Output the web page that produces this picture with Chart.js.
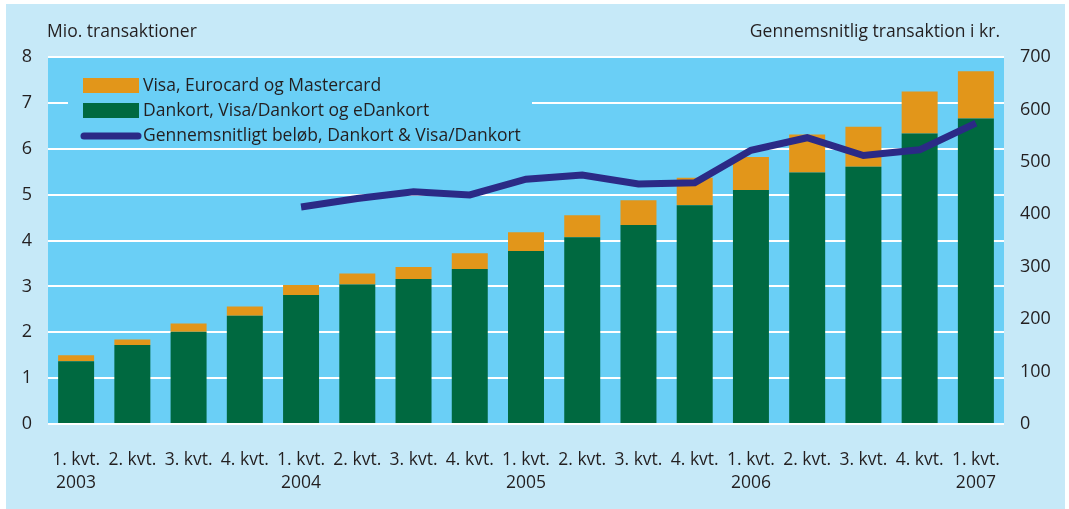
<!DOCTYPE html>
<html>
<head>
<meta charset="utf-8">
<script src="https://cdn.jsdelivr.net/npm/chart.js@4.4.1/dist/chart.umd.min.js"></script>
<style>
  html, body { margin: 0; padding: 0; background: #ffffff; }
  #wrap { width: 1069px; height: 509px; }
</style>
</head>
<body>
<div id="wrap"><canvas id="kortChart" width="1069" height="509"></canvas></div>
<script>
// Kvartaler
var quarters = [
    ['1. kvt.', '2003'], '2. kvt.', '3. kvt.', '4. kvt.',
    ['1. kvt.', '2004'], '2. kvt.', '3. kvt.', '4. kvt.',
    ['1. kvt.', '2005'], '2. kvt.', '3. kvt.', '4. kvt.',
    ['1. kvt.', '2006'], '2. kvt.', '3. kvt.', '4. kvt.',
    ['1. kvt.', '2007']
];

// Mio. transaktioner
var dankort = [1.37, 1.72, 2.01, 2.36, 2.81, 3.04, 3.16, 3.38, 3.77, 4.07, 4.34, 4.77, 5.10, 5.48, 5.61, 6.33, 6.66];
var visaEuroMaster = [0.13, 0.12, 0.18, 0.20, 0.22, 0.24, 0.26, 0.34, 0.41, 0.48, 0.54, 0.60, 0.72, 0.83, 0.87, 0.92, 1.03];

// Gennemsnitlig transaktion i kr.
var avgAmount = [null, null, null, null, 414, 430, 443, 437, 467, 475, 458, 460, 522, 546, 512, 523, 574];

var font = "'Open Sans', sans-serif";
var textColor = '#231f20';

var frame = {
    id: 'frame',
    beforeDraw: function (chart) {
        var c = chart.ctx, a = chart.chartArea;
        c.save();
        c.fillStyle = '#ffffff';
        c.fillRect(0, 0, chart.width, chart.height);
        c.fillStyle = '#c6e9f8';
        c.fillRect(6, 4, 1059, 505);
        c.fillStyle = '#6acff6';
        c.fillRect(a.left, a.top, a.right - a.left, a.bottom - a.top);
        c.fillStyle = textColor;
        c.font = '17.5px ' + font;
        c.textBaseline = 'middle';
        c.textAlign = 'left';
        c.fillText('Mio. transaktioner', 47, 32);
        c.textAlign = 'right';
        c.fillText('Gennemsnitlig transaktion i kr.', 1000, 32);
        c.restore();
    },
    afterDatasetsDraw: function (chart) {
        var c = chart.ctx;
        var ds = chart.data.datasets;
        c.save();
        c.fillStyle = '#6acff6';
        c.fillRect(68, 64, 464, 83);
        var items = [ds[1], ds[0], ds[2]];
        c.font = '17.5px ' + font;
        c.textBaseline = 'middle';
        c.textAlign = 'left';
        for (var i = 0; i < items.length; i++) {
            var y = 85 + i * 25;
            if (items[i].type === 'line') {
                c.strokeStyle = items[i].borderColor;
                c.lineWidth = 7;
                c.lineCap = 'round';
                c.beginPath();
                c.moveTo(84, y + 1);
                c.lineTo(138, y + 1);
                c.stroke();
            } else {
                c.fillStyle = items[i].backgroundColor;
                c.fillRect(83, y - 7, 56, 15);
            }
            c.fillStyle = textColor;
            c.fillText(items[i].label, 143, y + 1);
        }
        c.restore();
    }
};

var ctx = document.getElementById('kortChart');

var kortChart = new Chart(ctx, {
    type: 'bar',
    data: {
        labels: quarters,
        datasets: [
            {
                label: 'Dankort, Visa/Dankort og eDankort',
                data: dankort,
                backgroundColor: '#006940',
                yAxisID: 'y',
                stack: 'kort',
                order: 2
            },
            {
                label: 'Visa, Eurocard og Mastercard',
                data: visaEuroMaster,
                backgroundColor: '#e2961a',
                yAxisID: 'y',
                stack: 'kort',
                order: 2
            },
            {
                type: 'line',
                label: 'Gennemsnitligt beløb, Dankort & Visa/Dankort',
                data: avgAmount,
                borderColor: '#2b2a86',
                borderWidth: 7,
                pointRadius: 0,
                tension: 0,
                fill: false,
                yAxisID: 'y1',
                order: 1
            }
        ]
    },
    plugins: [frame],
    options: {
        responsive: false,
        animation: false,
        devicePixelRatio: 1,
        layout: { padding: { top: 57, left: 0, right: 0, bottom: 0 } },
        datasets: {
            bar: { barPercentage: 0.64, categoryPercentage: 1 }
        },
        plugins: {
            legend: { display: false },
            tooltip: { enabled: false }
        },
        scales: {
            x: {
                stacked: true,
                grid: { display: false },
                border: { display: false },
                ticks: {
                    color: textColor,
                    font: { family: font, size: 17.5, lineHeight: 1.35 },
                    padding: 16,
                    maxRotation: 0,
                    autoSkip: false
                },
                afterFit: function (s) { s.height = 85; }
            },
            y: {
                stacked: true,
                position: 'left',
                min: 0,
                max: 8,
                ticks: {
                    stepSize: 1,
                    color: textColor,
                    font: { family: font, size: 18 },
                    padding: 16
                },
                grid: { color: '#ffffff', lineWidth: 2, drawTicks: false },
                border: { display: false },
                afterFit: function (s) { s.width = 48; }
            },
            y1: {
                position: 'right',
                min: 0,
                max: 700,
                ticks: {
                    stepSize: 100,
                    color: textColor,
                    font: { family: font, size: 18 },
                    padding: 16
                },
                grid: { display: false, drawTicks: false },
                border: { display: false },
                afterFit: function (s) { s.width = 65; }
            }
        }
    }
});
</script>
</body>
</html>
